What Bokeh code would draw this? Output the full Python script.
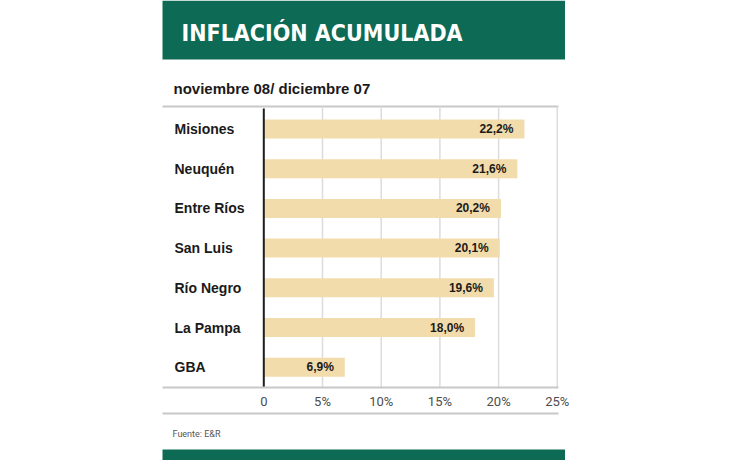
from bokeh.plotting import figure
from bokeh.models import Range1d
from bokeh.core.properties import value
from bokeh.embed import file_html
from bokeh.resources import INLINE

# ---- data ----
provincias = ["Misiones", "Neuquén", "Entre Ríos", "San Luis", "Río Negro", "La Pampa", "GBA"]
inflacion = [22.2, 21.6, 20.2, 20.1, 19.6, 18.0, 6.9]
ticks = [0, 5, 10, 15, 20, 25]
tick_labels = ["0", "5%", "10%", "15%", "20%", "25%"]
titulo = "INFLACIÓN ACUMULADA"
subtitulo = "noviembre 08/ diciembre 07"
fuente = "Fuente: E&R"

# ---- layout ----
W, H = 730, 460
X0PX, PXPER = 263.3, 11.74     # pixel of 0 %, pixels per 1 %
Y0PX, ROW = 128.5, 39.7        # pixel of first row centre, row step

GREEN = "#0d6a54"
BAR = "#f2dcab"
COND = value("'DejaVu Sans Condensed', Roboto, sans-serif")
ROBOTO = value("Roboto")
SANS = value("Liberation Sans")


def fx(px):
    return (px - X0PX) / PXPER


def fy(py):
    return (py - Y0PX) / ROW


p = figure(width=W, height=H,
           x_range=Range1d(fx(0), fx(W)), y_range=Range1d(fy(H), fy(0)),
           x_axis_type=None, y_axis_type=None, min_border=0,
           output_backend="svg", toolbar_location=None,
           outline_line_color=None, background_fill_color="white",
           border_fill_color="white")

idx = list(range(len(provincias)))
labels = [f"{v:.1f}".replace(".", ",") + "%" for v in inflacion]

# header
p.quad(left=[fx(162)], right=[fx(564.5)], top=[fy(0)], bottom=[fy(59)],
       fill_color=GREEN, line_color=None)
p.text(x=[fx(181)], y=[fy(32)], text=[titulo], text_color="white",
       text_font=COND, text_font_size="23px", text_font_style="bold",
       text_baseline="middle", text_align="left")

# subtitle
p.text(x=[fx(173)], y=[fy(88)], text=[subtitulo], text_color="#1a1a1a",
       text_font=SANS, text_font_size="15px", text_font_style="bold",
       text_baseline="middle", text_align="left")
p.segment(x0=[fx(162)], x1=[fx(558)], y0=[fy(106)], y1=[fy(106)],
          line_color="#c8c8c8", line_width=2)

# grid
p.segment(x0=ticks[1:], x1=ticks[1:], y0=[fy(106)] * 5, y1=[fy(387)] * 5,
          line_color="#dcdcdc", line_width=1.5)

# bars
p.hbar(y=idx, left=0, right=inflacion, height=19 / ROW,
       fill_color=BAR, line_color=None)

# zero line
p.segment(x0=[0], x1=[0], y0=[fy(108)], y1=[fy(387)],
          line_color="#1e1e1e", line_width=2)

# bottom lines
p.segment(x0=[fx(162), fx(162)], x1=[fx(558), fx(558)],
          y0=[fy(387), fy(413)], y1=[fy(387), fy(413)],
          line_color="#c8c8c8", line_width=2)

# category labels
p.text(x=[fx(174)] * len(provincias), y=idx, text=provincias,
       text_color="#1a1a1a", text_font=SANS, text_font_size="14px",
       text_font_style="bold", text_baseline="middle", text_align="left")

# value labels
p.text(x=[v - 11 / PXPER for v in inflacion], y=idx, text=labels,
       text_color="#1a1a1a", text_font=SANS, text_font_size="12px",
       text_font_style="bold", text_baseline="middle", text_align="right")

# tick labels
p.text(x=ticks, y=[fy(401)] * len(ticks), text=tick_labels,
       text_color="#4d4d4d", text_font=ROBOTO, text_font_size="13px",
       text_baseline="middle", text_align="center")

# source
p.text(x=[fx(172)], y=[fy(433)], text=[fuente], text_color="#555555",
       text_font=ROBOTO, text_font_size="9px",
       text_baseline="middle", text_align="left")

# bottom band
p.quad(left=[fx(162)], right=[fx(564.5)], top=[fy(449)], bottom=[fy(462)],
       fill_color=GREEN, line_color=None)

open("out.html", "w").write(file_html(p, INLINE))
